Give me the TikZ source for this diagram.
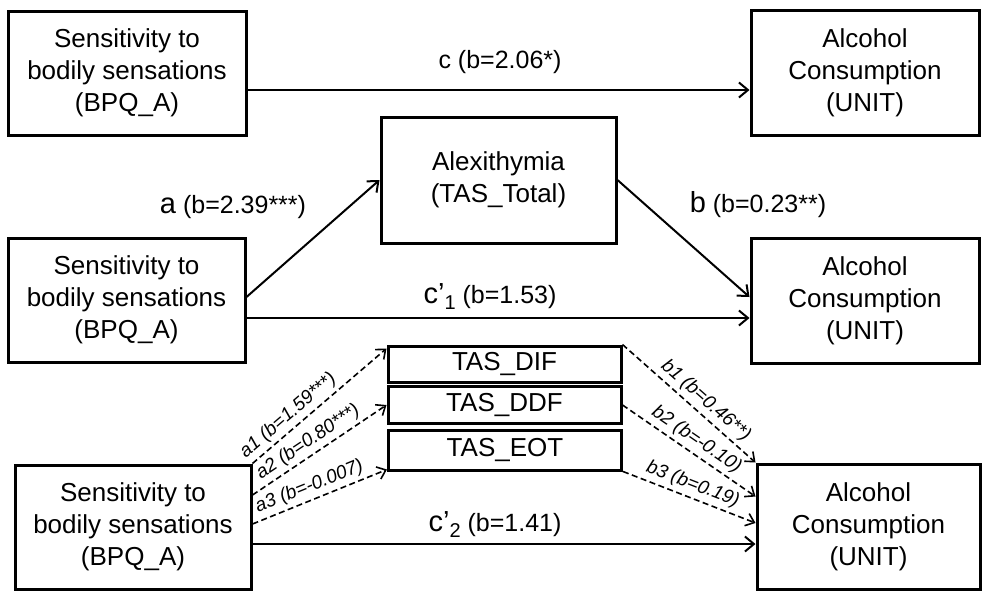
\documentclass[tikz,border=0pt]{standalone}
\usepackage{fontspec}
\setmainfont{Liberation Sans}
\usetikzlibrary{arrows.meta,positioning}

\tikzset{
  var/.style={draw, line width=3pt, align=center, inner sep=0pt,
    minimum width=236pt, minimum height=124pt, font=\fontsize{26}{32}\selectfont},
  subvar/.style={draw, line width=3pt, inner sep=0pt,
    minimum width=233pt, minimum height=36pt, font=\fontsize{26}{30}\selectfont},
  effect/.style={line width=2pt, -{Straight Barb[length=9pt,width=15pt,line width=2pt]}},
  indirect/.style={line width=1.6pt, dash pattern=on 6pt off 3.5pt,
    -{Straight Barb[length=8pt,width=13pt,line width=1.6pt]}},
  coef/.style={inner sep=0pt, font=\fontsize{25}{25}\selectfont},
  lbl/.style={inner sep=3.5pt, font=\fontsize{19}{19}\selectfont\itshape}
}

\begin{document}
\begin{tikzpicture}[x=1pt, y=-1pt]
  \useasboundingbox (0,0) rectangle (982,590);

  % Total effect
  \node[var, minimum width=238pt] (bpqA) at (127,73) {Sensitivity to\\bodily sensations\\(BPQ\_A)};
  \node[var, minimum width=228pt, minimum height=125pt] (unitA) at (865,72.5) {Alcohol\\Consumption\\(UNIT)};
  \draw[effect] ([yshift=-17pt]bpqA.east) -- ([yshift=-17.5pt]unitA.west);
  \node[coef] (lblC) at (500,62) {c (b=2.06*)};

  % Simple mediation
  \node[var, minimum width=235pt, minimum height=126pt] (tas) at (498.5,180) {Alexithymia\\(TAS\_Total)};
  \node[var, minimum width=237pt] (bpqB) at (126.5,300) {Sensitivity to\\bodily sensations\\(BPQ\_A)};
  \node[var, minimum width=228pt, minimum height=125pt] (unitB) at (865,300.5) {Alcohol\\Consumption\\(UNIT)};
  \draw[effect] ([yshift=3pt]bpqB.east) -- (tas.west);
  \draw[effect] (tas.east) -- ([yshift=3.5pt]unitB.west);
  \draw[effect] ([yshift=-18pt]bpqB.east) -- ([yshift=-17.5pt]unitB.west);
  \node[coef] (lblA) at (233,207) {{\fontsize{29}{29}\selectfont a} (b=2.39***)};
  \node[coef] (lblB) at (758,205) {{\fontsize{29}{29}\selectfont b} (b=0.23**)};
  \node[coef] (lblC1) at (490,297)
    {{\fontsize{29}{29}\selectfont c’}\raisebox{-6pt}{\fontsize{20}{20}\selectfont 1} (b=1.53)};

  % Parallel mediation
  \node[subvar] (dif) at (504.5,364) {TAS\_DIF};
  \node[subvar, minimum height=37pt] (ddf) at (504.5,405) {TAS\_DDF};
  \node[subvar, minimum height=40pt] (eot) at (505,450) {TAS\_EOT};
  \node[var] (bpqC) at (133,527) {Sensitivity to\\bodily sensations\\(BPQ\_A)};
  \node[var, minimum width=223pt, minimum height=125pt] (unitC) at (868.5,526.5) {Alcohol\\Consumption\\(UNIT)};

  \draw[indirect] (bpqC.north east) -- ([yshift=-4pt]dif.north west)
    node[lbl, pos=0.33, above, sloped] {a1 (b=1.59***)};
  \draw[indirect] ([yshift=32pt]bpqC.east) -- (ddf.west)
    node[lbl, pos=0.47, above, sloped] {a2 (b=0.80***)};
  \draw[indirect] ([yshift=3pt]bpqC.east) -- ([yshift=2pt]eot.south west)
    node[lbl, pos=0.46, above, sloped] {a3 (b=-0.007)};
  \draw[indirect] (dif.north east) -- (unitC.north west)
    node[lbl, pos=0.56, above, sloped] {b1 (b=0.46**)};
  \draw[indirect] (ddf.east) -- ([yshift=30pt]unitC.west)
    node[lbl, pos=0.5, above, sloped] {b2 (b=-0.10)};
  \draw[indirect] (eot.south east) -- ([yshift=3.5pt]unitC.west)
    node[lbl, pos=0.49, above, sloped] {b3 (b=0.19)};
  \draw[effect] ([yshift=-17pt]bpqC.east) -- ([yshift=-17.5pt]unitC.west);
  \node[coef] (lblC2) at (495,525)
    {{\fontsize{29}{29}\selectfont c’}\raisebox{-6pt}{\fontsize{20}{20}\selectfont 2} (b=1.41)};
\end{tikzpicture}
\end{document}
